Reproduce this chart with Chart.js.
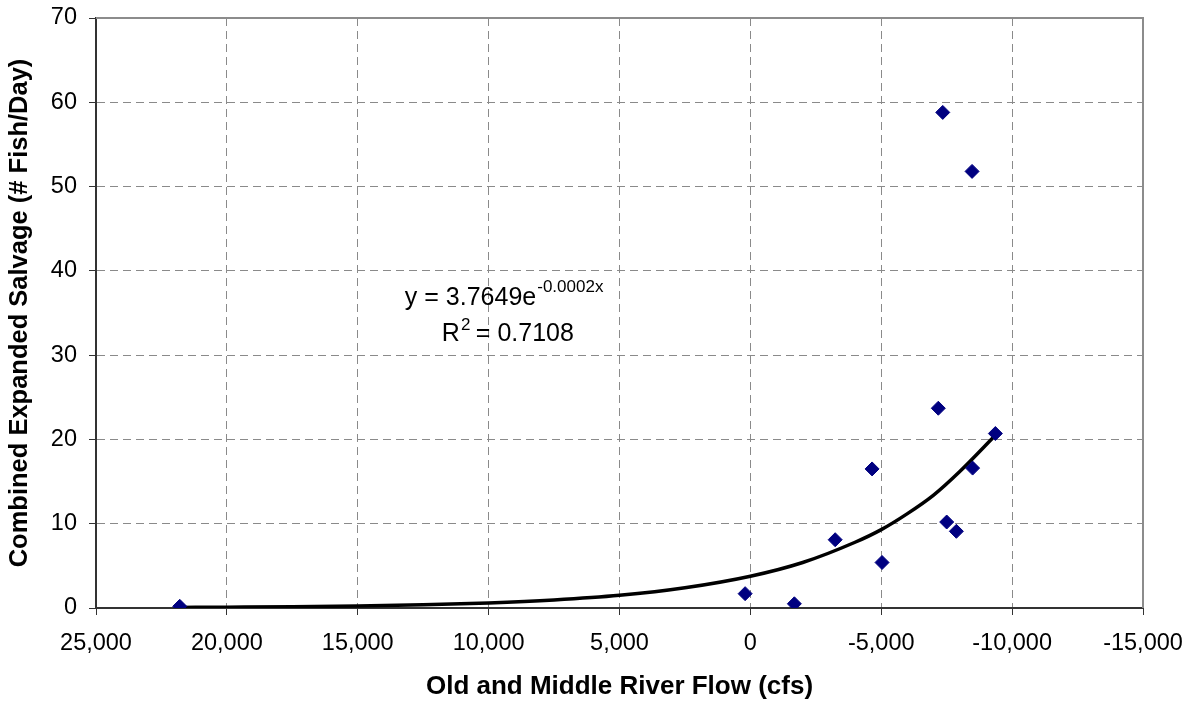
<!DOCTYPE html>
<html lang="en">
<head>
    <meta charset="UTF-8">
    <title>Salvage vs OMR Flow</title>
    <style>
        body {
            margin: 0;
            padding: 0;
            background-color: #ffffff;
        }
        #wrap {
            width: 1190px;
            height: 704px;
        }
    </style>
</head>
<body>
    <div id="wrap">
        <canvas id="salvageChart" width="1190" height="704"></canvas>
    </div>

    <script src="https://cdn.jsdelivr.net/npm/chart.js"></script>
    <script>
        // Observed salvage points (OMR flow in cfs, fish per day)
        const flowValues = [21800, 200, -1680, -3240, -4650, -5030, -7180, -7350, -7500, -7870, -8470, -8490, -9360];
        const salvageValues = [0.2, 1.7, 0.5, 8.1, 16.5, 5.4, 23.7, 58.8, 10.2, 9.1, 51.8, 16.6, 20.7];

        // Exponential trendline
        const trendFlow = [21800, 20000, 17500, 15000, 12500, 10000, 7500, 5000, 2500, 0, -2000, -4000, -5000, -6000, -7000, -8000, -9360];
        const trendSalvage = [0.07, 0.1, 0.15, 0.25, 0.39, 0.6, 0.95, 1.5, 2.4, 3.77, 5.4, 7.8, 9.3, 11.2, 13.4, 16.2, 20.5];

        const equationText = 'y = 3.7649e';
        const exponentText = '-0.0002x';
        const rSquaredText = '0.7108';

        const xMin = -15000, xMax = 25000, xStep = 5000;
        const yMin = 0, yMax = 70, yStep = 10;

        const pointData = flowValues.map((x, i) => ({ x: x, y: salvageValues[i] }));
        const trendData = trendFlow.map((x, i) => ({ x: x, y: trendSalvage[i] }));

        const FONT = '"Liberation Sans", Arial, sans-serif';

        // plot frame (gray border round the plot area)
        const framePlugin = {
            id: 'frame',
            beforeDatasetsDraw(chart) {
                const a = chart.chartArea;
                const ctx = chart.ctx;
                ctx.save();
                ctx.strokeStyle = '#8c8c8c';
                ctx.lineWidth = 2;
                ctx.beginPath();
                ctx.moveTo(a.left, a.top);
                ctx.lineTo(a.right, a.top);
                ctx.lineTo(a.right, a.bottom);
                ctx.stroke();
                ctx.restore();
            }
        };

        // trendline equation label
        const equationPlugin = {
            id: 'equation',
            afterDatasetsDraw(chart) {
                const ctx = chart.ctx;
                const xs = chart.scales.x, ys = chart.scales.y;
                const x0 = xs.getPixelForValue(13200);
                const y0 = ys.getPixelForValue(36);
                ctx.save();
                ctx.fillStyle = '#000';
                ctx.textBaseline = 'alphabetic';
                ctx.textAlign = 'left';
                ctx.font = '25px ' + FONT;
                ctx.fillText(equationText, x0, y0);
                const w = ctx.measureText(equationText).width;
                ctx.font = '17px ' + FONT;
                ctx.fillText(exponentText, x0 + w + 1, y0 - 13);

                const x1 = x0 + 37;
                const y1 = y0 + 36;
                ctx.font = '25px ' + FONT;
                ctx.fillText('R', x1, y1);
                const rw = ctx.measureText('R').width;
                ctx.font = '17px ' + FONT;
                ctx.fillText('2', x1 + rw + 1, y1 - 11);
                ctx.font = '25px ' + FONT;
                ctx.fillText(' = ' + rSquaredText, x1 + rw + 9, y1);
                ctx.restore();
            }
        };

        const ctx = document.getElementById('salvageChart').getContext('2d');
        new Chart(ctx, {
            type: 'scatter',
            data: {
                datasets: [
                    {
                        label: 'Trend',
                        data: trendData,
                        showLine: true,
                        borderColor: '#000000',
                        borderWidth: 3.5,
                        pointRadius: 0,
                        cubicInterpolationMode: 'monotone',
                        order: 2
                    },
                    {
                        label: 'Salvage',
                        data: pointData,
                        pointStyle: 'rectRot',
                        pointRadius: 7,
                        backgroundColor: '#000080',
                        borderColor: '#000080',
                        borderWidth: 1,
                        order: 1
                    }
                ]
            },
            options: {
                responsive: false,
                animation: false,
                layout: {
                    padding: { top: 18, right: 47, bottom: 0, left: 0 }
                },
                plugins: {
                    legend: { display: false },
                    tooltip: { enabled: false }
                },
                scales: {
                    x: {
                        type: 'linear',
                        reverse: true,
                        min: xMin,
                        max: xMax,
                        afterFit(scale) { scale.height = 96; },
                        afterBuildTicks(scale) {
                            const t = [];
                            for (let v = xMin; v <= xMax; v += xStep) t.push({ value: v });
                            scale.ticks = t;
                        },
                        ticks: {
                            color: '#000',
                            padding: 14,
                            maxRotation: 0,
                            font: { family: FONT, size: 23.5 },
                            callback: v => v.toLocaleString('en-US')
                        },
                        grid: {
                            color: '#8a8a8a',
                            lineWidth: 1,
                            tickLength: 7,
                            tickColor: '#333333',
                            tickBorderDash: [],
                            drawTicks: true
                        },
                        border: { color: '#333333', width: 2, dash: [8, 5] },
                        title: {
                            display: true,
                            text: 'Old and Middle River Flow (cfs)',
                            color: '#000',
                            font: { family: FONT, size: 26, weight: 'bold' },
                            padding: { top: 0, bottom: 2 }
                        }
                    },
                    y: {
                        min: yMin,
                        max: yMax,
                        afterFit(scale) {
                            scale.width = 96;
                            scale.paddingTop = 0;
                            scale.paddingBottom = 0;
                        },
                        ticks: {
                            stepSize: yStep,
                            color: '#000',
                            padding: 12,
                            font: { family: FONT, size: 23.5 }
                        },
                        grid: {
                            color: '#8a8a8a',
                            lineWidth: 1,
                            tickLength: 7,
                            tickColor: '#333333',
                            tickBorderDash: []
                        },
                        border: { color: '#333333', width: 2, dash: [8, 5] },
                        title: {
                            display: true,
                            text: 'Combined Expanded Salvage (# Fish/Day)',
                            color: '#000',
                            font: { family: FONT, size: 25.5, weight: 'bold' },
                            padding: { top: 5, bottom: 0 }
                        }
                    }
                }
            },
            plugins: [framePlugin, equationPlugin]
        });
    </script>
</body>
</html>
